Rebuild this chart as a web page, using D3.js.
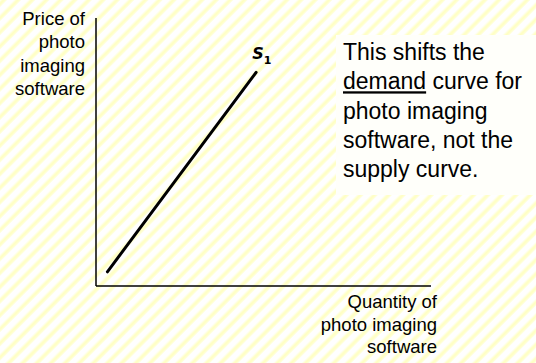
<!DOCTYPE html>
<html>
<head>
<meta charset="utf-8">
<script src="https://cdn.jsdelivr.net/npm/d3@7"></script>
<style>
  html, body { margin: 0; padding: 0; background: #fff; }
  svg { display: block; }
</style>
</head>
<body>
<svg id="chart" width="536" height="363"></svg>
<script>
// Supply curve S1 endpoints (quantity, price) on a 0–10 index scale
const supplyQuantity = [0.34, 4.78];
const supplyPrice = [0.53, 7.97];
const supplyLabel = ["S", "1"];

// Axis titles, one entry per line
const yTitleLines = ["Price of", "photo", "imaging", "software"];
const xTitleLines = ["Quantity of", "photo imaging", "software"];

// Note beside the graph; the flagged word is underlined
const noteLines = [
  [{ t: "This shifts the" }],
  [{ t: "demand", u: true }, { t: " curve for" }],
  [{ t: "photo imaging" }],
  [{ t: "software, not the" }],
  [{ t: "supply curve." }]
];

const W = 536, H = 363;
const svg = d3.select("#chart");

// Striped pale-yellow background
const defs = svg.append("defs");
const grad = defs.append("linearGradient")
  .attr("id", "stripeGrad").attr("x1", 0).attr("x2", 1).attr("y1", 0).attr("y2", 0);
[[0, "#ffffff"], [0.2, "#ffffd8"], [0.5, "#ffffbf"], [0.8, "#ffffd8"], [1, "#ffffff"]]
  .forEach(([o, c]) => grad.append("stop").attr("offset", o).attr("stop-color", c));
const pat = defs.append("pattern")
  .attr("id", "stripes").attr("patternUnits", "userSpaceOnUse")
  .attr("width", 10).attr("height", 10)
  .attr("patternTransform", "rotate(45)");
pat.append("rect").attr("width", 10).attr("height", 10).attr("fill", "#ffffff");
pat.append("rect").attr("width", 5.5).attr("height", 10).attr("fill", "url(#stripeGrad)");
svg.append("rect").attr("width", W).attr("height", H).attr("fill", "url(#stripes)");

// Scales
const x = d3.scaleLinear().domain([0, 10]).range([96, 431]);
const y = d3.scaleLinear().domain([0, 10]).range([286, 18]);

// Axes (plain lines, no ticks)
const g = svg.append("g");
g.append("line")
  .attr("x1", x(0)).attr("x2", x(0)).attr("y1", y(10)).attr("y2", y(0))
  .attr("stroke", "#000").attr("stroke-width", 1.5);
g.append("line")
  .attr("x1", x(0)).attr("x2", x(10)).attr("y1", y(0)).attr("y2", y(0))
  .attr("stroke", "#000").attr("stroke-width", 1.5);

// Supply curve
const pts = supplyQuantity.map((q, i) => [q, supplyPrice[i]]);
g.append("path")
  .datum(pts)
  .attr("d", d3.line().x(d => x(d[0])).y(d => y(d[1])))
  .attr("fill", "none").attr("stroke", "#000").attr("stroke-width", 3)
  .attr("stroke-linecap", "round");

// S1 label
const last = pts[pts.length - 1];
const sl = g.append("text")
  .attr("x", x(last[0]) - 4).attr("y", y(last[1]) - 13)
  .attr("font-family", "'DejaVu Sans', Verdana, sans-serif")
  .attr("font-weight", "bold").attr("font-style", "italic")
  .attr("font-size", 16).attr("fill", "#000");
sl.append("tspan").text(supplyLabel[0]);
sl.append("tspan").attr("font-size", 11).attr("dy", 5).attr("font-style", "normal").text(supplyLabel[1]);

// Y-axis title, right-aligned left of the axis
g.append("g").selectAll("text").data(yTitleLines).join("text")
  .attr("x", x(0) - 11).attr("y", (d, i) => 25 + i * 23.4)
  .attr("text-anchor", "end")
  .attr("font-family", "'Liberation Sans', Arial, sans-serif")
  .attr("font-size", 18.5).attr("fill", "#000")
  .text(d => d);

// X-axis title, right-aligned under the axis end
g.append("g").selectAll("text").data(xTitleLines).join("text")
  .attr("x", x(10) + 6).attr("y", (d, i) => 308 + i * 22.6)
  .attr("text-anchor", "end")
  .attr("font-family", "'Liberation Sans', Arial, sans-serif")
  .attr("font-size", 18.5).attr("fill", "#000")
  .text(d => d);

// Note box
svg.append("rect")
  .attr("x", 336).attr("y", 35).attr("width", W - 336).attr("height", 160)
  .attr("fill", "#fffffa");
const note = svg.append("g").selectAll("text").data(noteLines).join("text")
  .attr("x", 343).attr("y", (d, i) => 60 + i * 29.3)
  .attr("font-family", "'Liberation Sans', Arial, sans-serif")
  .attr("font-size", 23).attr("fill", "#000");
note.selectAll("tspan").data(d => d).join("tspan")
  .attr("text-decoration", d => d.u ? "underline" : null)
  .style("white-space", "pre")
  .text(d => d.t);
</script>
</body>
</html>
